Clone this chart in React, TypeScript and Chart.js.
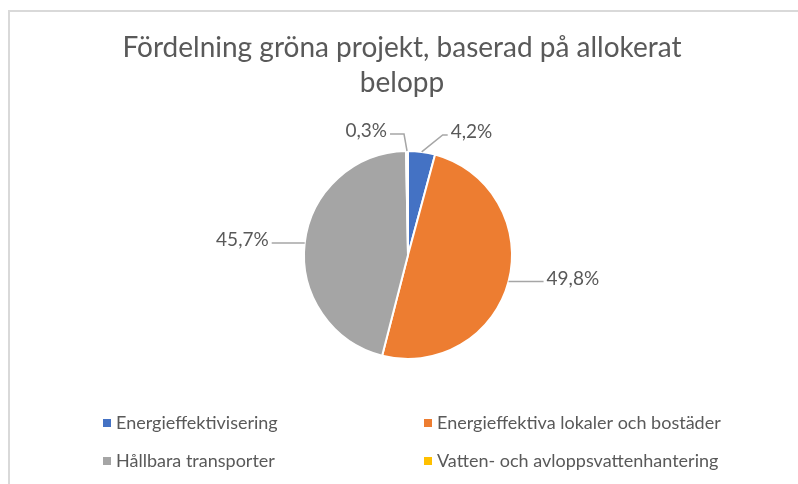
import React, { useEffect, useRef } from "react";
import { Chart, registerables } from "chart.js";

Chart.register(...registerables);

const categories = [
  "Energieffektivisering",
  "Energieffektiva lokaler och bostäder",
  "Hållbara transporter",
  "Vatten- och avloppsvattenhantering",
];
const shares = [4.2, 49.8, 45.7, 0.3];
const colors = ["#4472C4", "#ED7D31", "#A5A5A5", "#FFC000"];
const titleLines = ["Fördelning gröna projekt, baserad på allokerat", "belopp"];

// label leader styling: elbow offset from slice edge, horizontal run (sign = side)
const leaderElbow = [[21, -17], [0, 0], [0, 0], [-3, -17]];
const leaderRun = [5, 35, -33, -14];

const FONT = "Lato, 'Open Sans', sans-serif";
const TEXT = "#595959";

const decor = {
  id: "decor",
  afterDraw(chart: any) {
    const ctx = chart.ctx;
    ctx.save();
    // frame
    ctx.fillStyle = "#d9d9d9";
    ctx.fillRect(8, 10, 2, 474);
    ctx.fillRect(8, 10, 790, 2);
    // title
    ctx.fillStyle = TEXT;
    ctx.font = `28px ${FONT}`;
    ctx.textAlign = "center";
    ctx.textBaseline = "middle";
    titleLines.forEach((t, i) => ctx.fillText(t, 402, 48 + i * 35));
    // data labels
    const meta = chart.getDatasetMeta(0);
    ctx.font = `19px ${FONT}`;
    meta.data.forEach((arc: any, i: number) => {
      const p = arc.getProps(["x", "y", "startAngle", "endAngle", "outerRadius"], true);
      const mid = (p.startAngle + p.endAngle) / 2;
      const ex = p.x + Math.cos(mid) * p.outerRadius;
      const ey = p.y + Math.sin(mid) * p.outerRadius;
      const bx = ex + leaderElbow[i][0];
      const by = ey + leaderElbow[i][1];
      const hx = bx + leaderRun[i];
      ctx.strokeStyle = "#A6A6A6";
      ctx.lineWidth = 1.5;
      ctx.beginPath();
      ctx.moveTo(ex, ey);
      ctx.lineTo(bx, by);
      ctx.lineTo(hx, by);
      ctx.stroke();
      const txt = shares[i].toFixed(1).replace(".", ",") + "%";
      ctx.fillStyle = TEXT;
      ctx.textBaseline = "middle";
      if (leaderRun[i] >= 0) {
        ctx.textAlign = "left";
        ctx.fillText(txt, hx + 3, by - 3);
      } else {
        ctx.textAlign = "right";
        ctx.fillText(txt, hx - 3, by - 3);
      }
    });
    // legend
    const colX = [103, 424];
    const rowY = [423, 461];
    ctx.font = `18px ${FONT}`;
    ctx.textAlign = "left";
    ctx.textBaseline = "middle";
    categories.forEach((c, i) => {
      const x = colX[i % 2];
      const y = rowY[Math.floor(i / 2)];
      ctx.fillStyle = colors[i];
      ctx.fillRect(x, y - 4, 8, 8);
      ctx.fillStyle = TEXT;
      ctx.fillText(c, x + 13, y);
    });
    ctx.restore();
  },
};

export default function App() {
  const ref = useRef<HTMLCanvasElement>(null);
  useEffect(() => {
    if (!ref.current) return;
    const chart = new Chart(ref.current, {
      type: "pie",
      data: {
        labels: categories,
        datasets: [
          {
            data: shares,
            backgroundColor: colors,
            borderColor: "#ffffff",
            borderWidth: 2,
          },
        ],
      },
      options: {
        animation: false,
        responsive: false,
        layout: { padding: { left: 200, right: 182, top: 150, bottom: 124 } },
        plugins: {
          legend: { display: false },
          title: { display: false },
          tooltip: { enabled: false },
        },
      },
      plugins: [decor],
    });
    return () => chart.destroy();
  }, []);
  return (
    <div style={{ position: "absolute", left: 0, top: 0, width: 798, height: 484, background: "#fff" }}>
      <canvas ref={ref} width={798} height={484} style={{ display: "block" }} />
    </div>
  );
}
